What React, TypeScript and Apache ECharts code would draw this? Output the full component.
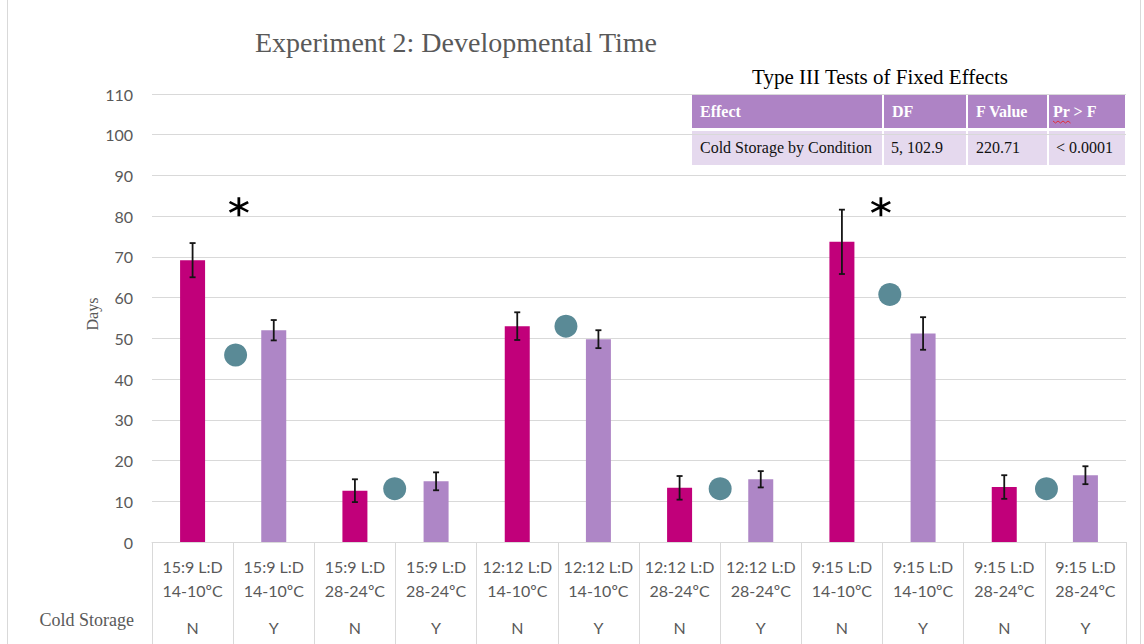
import React, { useEffect, useRef } from "react";
import * as echarts from "echarts";

// ---------- data ----------
const conditionLabels = [
  "15:9 L:D\n14-10ºC", "15:9 L:D\n14-10ºC",
  "15:9 L:D\n28-24ºC", "15:9 L:D\n28-24ºC",
  "12:12 L:D\n14-10ºC", "12:12 L:D\n14-10ºC",
  "12:12 L:D\n28-24ºC", "12:12 L:D\n28-24ºC",
  "9:15 L:D\n14-10ºC", "9:15 L:D\n14-10ºC",
  "9:15 L:D\n28-24ºC", "9:15 L:D\n28-24ºC",
];
const coldStorage = ["N", "Y", "N", "Y", "N", "Y", "N", "Y", "N", "Y", "N", "Y"];
const meanDays = [69.2, 52.0, 12.6, 14.9, 53.0, 49.8, 13.3, 15.4, 73.7, 51.2, 13.5, 16.4];
const errDays = [4.2, 2.5, 2.8, 2.2, 3.4, 2.2, 2.9, 2.0, 7.9, 4.0, 2.9, 2.2];
const markerX = [1.03, 2.99, 5.1, 7.0, 9.09, 11.02];
const markerY = [45.9, 13.1, 53.0, 13.1, 60.8, 13.1];
const starX = [1.07, 8.98];
const starY = [82.3, 82.3];
const yTicks = { min: 0, max: 110, interval: 10 };

const chartTitle = "Experiment 2: Developmental Time";
const yAxisName = "Days";
const rowName = "Cold Storage";
const tableTitle = "Type III Tests of Fixed Effects";
const tableHeader = ["Effect", "DF", "F Value", "Pr > F"];
const tableRow = ["Cold Storage by Condition", "5, 102.9", "220.71", "< 0.0001"];

// ---------- styles / layout ----------
const SERIF = '"Liberation Serif", "DejaVu Serif", serif';
const SANS = 'Lato, "Open Sans", sans-serif';
const MAGENTA = "#C1007A";
const PURPLE = "#AE86C6";
const TEAL = "#5A8A96";
const GRID = "#D9D9D9";
const GREY = "#595959";

const colX = [692, 884, 968, 1049];
const colW = [190, 82, 79, 76];
const headTextX = [700, 892, 976, 1053];
const bodyTextX = [700, 891, 976, 1056];

const STAR_PATH =
  "path://M8.7,0L11.3,0L11.3,20L8.7,20Z M2.00,3.80L19.35,13.80L18.05,16.05L0.65,6.05Z M0.65,13.95L18.05,3.95L19.35,6.20L2.00,16.20Z";

export default function App() {
  const ref = useRef<HTMLDivElement>(null);

  useEffect(() => {
    document.body.style.margin = "0";
    if (!ref.current) return;
    const chart = echarts.init(ref.current, null, { renderer: "svg" });

    const tableGraphics: any[] = [];
    tableGraphics.push({
      type: "text",
      x: 880,
      y: 77,
      style: {
        text: tableTitle,
        font: `21px ${SERIF}`,
        fill: "#000",
        textAlign: "center",
        textVerticalAlign: "middle",
      },
    });
    for (let i = 0; i < 4; i++) {
      tableGraphics.push({
        type: "rect",
        shape: { x: colX[i], y: 95, width: colW[i], height: 33 },
        style: { fill: "#AE83C5" },
      });
      tableGraphics.push({
        type: "rect",
        shape: { x: colX[i], y: 131, width: colW[i], height: 34 },
        style: { fill: "#E5D9EE" },
      });
      tableGraphics.push({
        type: "text",
        x: headTextX[i],
        y: 111,
        style: {
          text: tableHeader[i],
          font: `bold 16px ${SERIF}`,
          fill: "#fff",
          textVerticalAlign: "middle",
        },
      });
      tableGraphics.push({
        type: "text",
        x: bodyTextX[i],
        y: 147,
        style: {
          text: tableRow[i],
          font: `16px ${SERIF}`,
          fill: "#111",
          textVerticalAlign: "middle",
        },
      });
    }
    tableGraphics.push({
      type: "polyline",
      shape: {
        points: [
          [1053, 121], [1055.5, 123], [1058, 121], [1060.5, 123], [1063, 121],
          [1065.5, 123], [1068, 121], [1070.5, 123],
        ],
      },
      style: { stroke: "#E0303A", lineWidth: 1, fill: "none" },
    });

    const option: any = {
      animation: false,
      backgroundColor: "#fff",
      grid: { left: 152, right: 18, top: 94, bottom: 102, containLabel: false },
      xAxis: [
        {
          type: "category",
          data: conditionLabels.map((_, i) => String(i)),
          boundaryGap: true,
          axisLine: { show: true, lineStyle: { color: GRID, width: 1 } },
          axisTick: { show: true, interval: 0, length: 102, lineStyle: { color: GRID } },
          axisLabel: {
            interval: 0,
            margin: 12,
            formatter: (_v: string, i: number) => {
              const [a, b] = conditionLabels[i].split("\n");
              return `{a|${a}}\n{a|${b}}\n{b|${coldStorage[i]}}`;
            },
            rich: {
              a: { fontFamily: SANS, fontSize: 16, color: GREY, lineHeight: 24 },
              b: { fontFamily: SANS, fontSize: 16, color: GREY, lineHeight: 50 },
            },
          },
        },
        { type: "value", min: 0, max: 12, show: false },
      ],
      yAxis: {
        type: "value",
        min: yTicks.min,
        max: yTicks.max,
        interval: yTicks.interval,
        axisLine: { show: false },
        axisTick: { show: false },
        axisLabel: { margin: 19, fontFamily: SANS, fontSize: 16, color: GREY },
        splitLine: { show: true, lineStyle: { color: GRID, width: 1 } },
      },
      series: [
        {
          type: "bar",
          xAxisIndex: 0,
          barWidth: 25,
          data: meanDays.map((v, i) => ({
            value: v,
            itemStyle: { color: coldStorage[i] === "N" ? MAGENTA : PURPLE },
          })),
        },
        {
          type: "custom",
          xAxisIndex: 0,
          data: meanDays.map((v, i) => [i, v - errDays[i], v + errDays[i]]),
          encode: { x: 0, y: [1, 2] },
          z: 5,
          renderItem: (_p: any, api: any) => {
            const x = api.value(0);
            const lo = api.coord([x, api.value(1)]);
            const hi = api.coord([x, api.value(2)]);
            const cap = 3;
            const st = { stroke: "#151515", lineWidth: 1.8 };
            return {
              type: "group",
              children: [
                { type: "line", shape: { x1: hi[0], y1: hi[1], x2: lo[0], y2: lo[1] }, style: st },
                { type: "line", shape: { x1: hi[0] - cap, y1: hi[1], x2: hi[0] + cap, y2: hi[1] }, style: st },
                { type: "line", shape: { x1: lo[0] - cap, y1: lo[1], x2: lo[0] + cap, y2: lo[1] }, style: st },
              ],
            };
          },
        },
        {
          type: "scatter",
          xAxisIndex: 1,
          symbol: "circle",
          symbolSize: 23,
          itemStyle: { color: TEAL, opacity: 1 },
          data: markerX.map((x, i) => [x, markerY[i]]),
        },
        {
          type: "scatter",
          xAxisIndex: 1,
          symbol: STAR_PATH,
          symbolSize: [20, 19],
          itemStyle: { color: "#000", opacity: 1 },
          data: starX.map((x, i) => [x, starY[i]]),
        },
      ],
      graphic: [
        {
          type: "rect",
          shape: { x: 7.5, y: -2, width: 1133, height: 700 },
          style: { fill: "none", stroke: GRID, lineWidth: 1 },
          silent: true,
        },
        {
          type: "text",
          x: 456,
          y: 42,
          style: {
            text: chartTitle,
            font: `28px ${SERIF}`,
            fill: GREY,
            textAlign: "center",
            textVerticalAlign: "middle",
          },
        },
        {
          type: "text",
          x: 92,
          y: 314,
          rotation: Math.PI / 2,
          style: {
            text: yAxisName,
            font: `16px ${SERIF}`,
            fill: GREY,
            textAlign: "center",
            textVerticalAlign: "middle",
          },
        },
        {
          type: "text",
          x: 134,
          y: 620,
          style: {
            text: rowName,
            font: `18px ${SERIF}`,
            fill: GREY,
            textAlign: "right",
            textVerticalAlign: "middle",
          },
        },
        ...tableGraphics,
      ],
    };

    chart.setOption(option);
    return () => chart.dispose();
  }, []);

  return <div ref={ref} style={{ width: 1144, height: 644 }} />;
}
